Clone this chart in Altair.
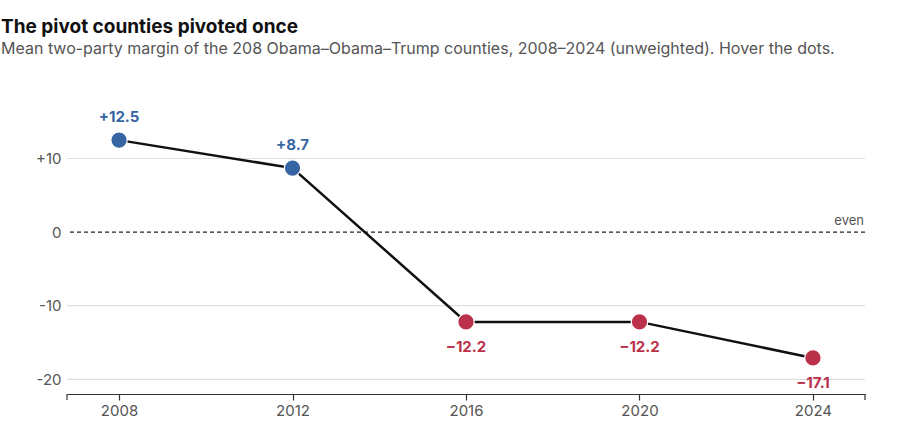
import altair as alt
import pandas as pd

years = [2008, 2012, 2016, 2020, 2024]
margins = [12.5, 8.7, -12.2, -12.2, -17.1]
labels = ["+12.5", "+8.7", "\u221212.2", "\u221212.2", "\u221217.1"]
grid_vals = [-20, -10, 10]
x_domain = [2006.8, 2025.2]
y_domain = [-22, 17]

BLUE = "#3566a3"
RED = "#bb3149"

df = pd.DataFrame({"year": years, "margin": margins, "label": labels})
df["party"] = ["D" if m > 0 else "R" for m in margins]

x = alt.X("year:Q", scale=alt.Scale(domain=x_domain, nice=False, zero=False),
          axis=alt.Axis(values=years, format="d", title=None, grid=False,
                        domainColor="#333", tickColor="#333", tickSize=6,
                        domainWidth=1.2, tickWidth=1.2,
                        labelColor="#555", labelFontSize=15, labelPadding=3,
                        labelFont="Inter"))
y = alt.Y("margin:Q", scale=alt.Scale(domain=y_domain, nice=False, zero=False),
          axis=alt.Axis(values=[-20, -10, 0, 10], title=None, grid=False,
                        domain=False, ticks=False, labelPadding=6,
                        labelExpr="datum.value > 0 ? '+' + datum.value : datum.value",
                        labelColor="#555", labelFontSize=15, labelFont="Inter"))

base = alt.Chart(df)

grid = alt.Chart(pd.DataFrame({"v": grid_vals})).mark_rule(
    color="#e3e0d8", strokeWidth=1.2
).encode(y=alt.Y("v:Q", scale=alt.Scale(domain=y_domain, nice=False, zero=False)))

zero = alt.Chart(pd.DataFrame({"v": [0]})).mark_rule(
    color="#222", strokeWidth=1.2, strokeDash=[4, 3]
).encode(y="v:Q")

even = alt.Chart(pd.DataFrame({"v": [0], "t": ["even"]})).mark_text(
    align="right", baseline="bottom", dy=-4, fontSize=13, color="#555", font="Inter"
).encode(y="v:Q", x=alt.value(797), text="t:N")

caps = alt.Chart(pd.DataFrame({"e": x_domain})).mark_rule(
    color="#333", strokeWidth=1.2
).encode(x="e:Q", y=alt.value(287), y2=alt.value(293))

line = base.mark_line(color="#111", strokeWidth=2.5).encode(x=x, y=y)

color = alt.Color("party:N", scale=alt.Scale(domain=["D", "R"], range=[BLUE, RED]),
                  legend=None)
pts = base.mark_point(filled=True, size=270, opacity=1, stroke="white",
                      strokeWidth=1.2).encode(
    x="year:Q", y="margin:Q", color=color,
    tooltip=[alt.Tooltip("year:Q", format="d"), alt.Tooltip("label:N", title="margin")])

lab_d = base.transform_filter("datum.margin > 0").mark_text(
    fontSize=15, fontWeight="bold", dy=-23, font="Inter"
).encode(x="year:Q", y="margin:Q", text="label:N", color=color)
lab_r = base.transform_filter("datum.margin < 0").mark_text(
    fontSize=15, fontWeight="bold", dy=25, font="Inter"
).encode(x="year:Q", y="margin:Q", text="label:N", color=color)

chart = alt.layer(grid, zero, even, caps, line, pts, lab_d, lab_r).properties(
    width=798, height=287,
    background="white",
    autosize=alt.AutoSizeParams(type="none"),
    padding={"left": 67, "top": 107, "right": 35, "bottom": 47},
    title=alt.TitleParams(
        "The pivot counties pivoted once",
        subtitle="Mean two-party margin of the 208 Obama\u2013Obama\u2013Trump counties, 2008\u20132024 (unweighted). Hover the dots.",
        anchor="start", frame="group", dx=-66, offset=50, font="Inter", fontSize=19,
        fontWeight="bold", color="#111", subtitleFont="Inter",
        subtitleFontSize=16, subtitleColor="#555", subtitlePadding=4,
    ),
).configure_view(strokeWidth=0, stroke="transparent")

chart.save("out.html", embed_options={"renderer": "svg", "actions": False})
